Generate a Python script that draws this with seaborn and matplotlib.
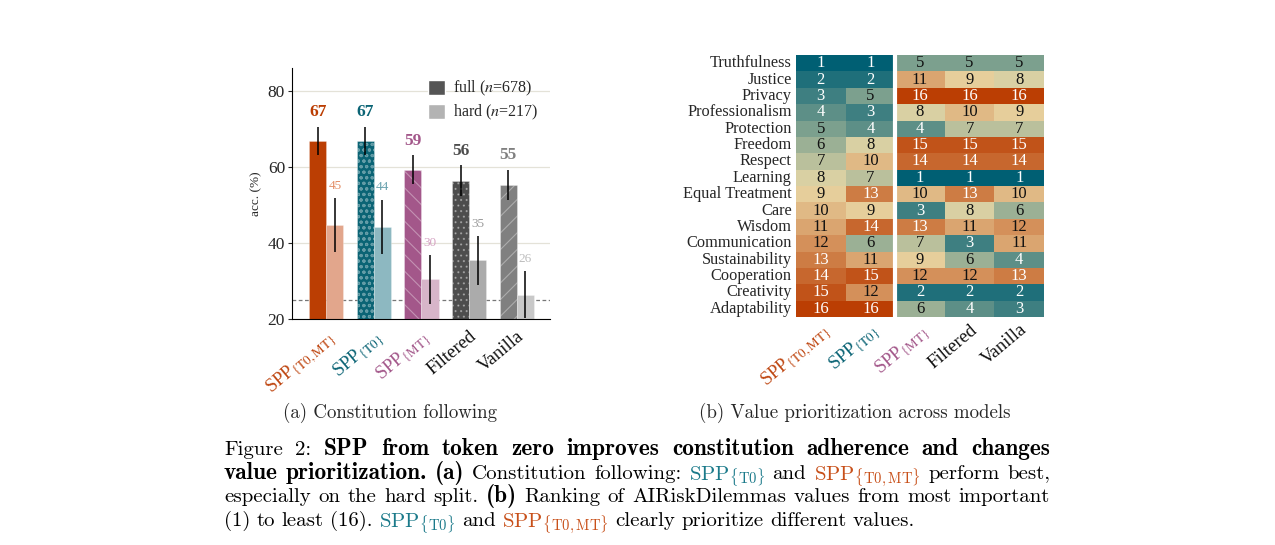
import matplotlib
matplotlib.use("Agg")
import numpy as np
import pandas as pd
import seaborn as sns
import matplotlib.pyplot as plt
from matplotlib.colors import LinearSegmentedColormap
from matplotlib.patches import Patch

# modeller
model_keys = ["SPP_T0MT", "SPP_T0", "SPP_MT", "Filtered", "Vanilla"]
model_labels = [r"SPP$_{\{\mathrm{T0,MT}\}}$", r"SPP$_{\{\mathrm{T0}\}}$",
                r"SPP$_{\{\mathrm{MT}\}}$", "Filtered", "Vanilla"]

# (a) constitution following
full_acc = [66.8, 66.9, 59.2, 56.4, 55.3]
hard_acc = [44.8, 44.3, 30.4, 35.4, 26.4]
full_err = [3.8, 3.7, 3.8, 4.1, 4.0]
hard_err = [7.1, 7.1, 6.5, 6.5, 6.1]
chance = 25

# (b) value ranking
values = ["Truthfulness", "Justice", "Privacy", "Professionalism", "Protection",
          "Freedom", "Respect", "Learning", "Equal Treatment", "Care", "Wisdom",
          "Communication", "Sustainability", "Cooperation", "Creativity", "Adaptability"]
rank_t0mt = [1, 2, 3, 4, 5, 6, 7, 8, 9, 10, 11, 12, 13, 14, 15, 16]
rank_t0 = [1, 2, 5, 3, 4, 8, 10, 7, 13, 9, 14, 6, 11, 15, 12, 16]
rank_mt = [5, 11, 16, 8, 4, 15, 14, 1, 10, 3, 13, 7, 9, 12, 2, 6]
rank_filtered = [5, 9, 16, 10, 7, 15, 14, 1, 13, 8, 11, 3, 6, 12, 2, 4]
rank_vanilla = [5, 8, 16, 9, 7, 15, 14, 1, 10, 6, 12, 11, 4, 13, 2, 3]

full_colors = ["#bb3e03", "#0b6475", "#a3578a", "#4d4d4d", "#808080"]
hard_colors = ["#e2a68c", "#8db8c1", "#d7b5c9", "#ababab", "#c8c8c8"]
full_txt = ["#bb3e03", "#0b6475", "#a3578a", "#4d4d4d", "#808080"]
hard_txt = ["#e38d66", "#6aa2ae", "#d5a3c3", "#9a9a9a", "#bdbdbd"]
tick_colors = ["#bf4712", "#0b6475", "#a3578a", "#111111", "#111111"]
hatches = ["", "ooo", "\\\\", "...", "//"]

sns.set_style("white")
plt.rcParams["font.family"] = ["Liberation Serif", "DejaVu Serif"]
plt.rcParams["mathtext.fontset"] = "stix"
plt.rcParams["hatch.linewidth"] = 0.8

fig = plt.figure(figsize=(12.75, 5.45), dpi=100)
W, H = 1275, 545

# ---- (a) bar chart ----
ax = fig.add_axes([292 / W, 1 - 319 / H, 258 / W, 251 / H])
df = pd.DataFrame({
    "model": model_keys * 2,
    "acc": full_acc + hard_acc,
    "split": ["full"] * 5 + ["hard"] * 5,
})
sns.barplot(data=df, x="model", y="acc", hue="split", hue_order=["full", "hard"],
            order=model_keys, width=0.72, errorbar=None, legend=False, ax=ax, zorder=2)

for cont, accs, errs, cols, tcols, is_full in zip(
        ax.containers, [full_acc, hard_acc], [full_err, hard_err],
        [full_colors, hard_colors], [full_txt, hard_txt], [True, False]):
    xs = []
    for i, bar in enumerate(cont):
        bar.set_facecolor(cols[i])
        if is_full and hatches[i]:
            bar.set_hatch(hatches[i])
            bar.set_edgecolor((1, 1, 1, 0.35))
        else:
            bar.set_edgecolor((1, 1, 1, 0.3))
        bar.set_linewidth(0.6)
        xc = bar.get_x() + bar.get_width() / 2
        xs.append(xc)
        ax.text(xc, accs[i] + errs[i] + 1.6, f"{accs[i]:.0f}", ha="center", va="bottom",
                color=tcols[i], fontsize=12.5 if is_full else 9.5,
                fontweight="bold" if is_full else "normal")
    ax.errorbar(xs, accs, yerr=errs, fmt="none", ecolor="black", elinewidth=1.1, zorder=3)

ax.axhline(chance, color="#777777", lw=0.9, ls=(0, (3, 2)), zorder=1)
ax.set_ylim(20, 86)
ax.set_xlim(-0.72, 4.7)
ax.set_yticks([20, 40, 60, 80])
ax.yaxis.grid(True, color="#e4e2d8", lw=0.9, zorder=0)
ax.set_axisbelow(True)
sns.despine(ax=ax)
ax.spines["left"].set_color("black")
ax.spines["bottom"].set_color("black")
ax.tick_params(axis="y", labelsize=12.5, length=3, width=0.8, left=True, pad=2)
ax.tick_params(axis="x", length=0, pad=6)
ax.set_xlabel("")
ax.set_ylabel("acc. (%)", fontsize=9.5, labelpad=4)
ax.set_xticks(range(5))
ax.set_xticklabels(model_labels, rotation=40, ha="right", rotation_mode="anchor", fontsize=13.5)
for lab, c in zip(ax.get_xticklabels(), tick_colors):
    lab.set_color(c)

handles = [Patch(facecolor="#555555"), Patch(facecolor="#b3b3b3")]
ax.legend(handles, [r"full ($n$=678)", r"hard ($n$=217)"], loc="upper right",
          bbox_to_anchor=(1.0, 1.0), frameon=False, fontsize=11.5, handlelength=1.1,
          handleheight=1.1, handletextpad=0.5, labelspacing=0.3, borderaxespad=0.3)

# ---- (b) heatmap ----
ax2 = fig.add_axes([796 / W, 1 - 317 / H, 248 / W, 262 / H])
ranks = pd.DataFrame({
    "SPP_T0MT": rank_t0mt, "SPP_T0": rank_t0, "SPP_MT": rank_mt,
    "Filtered": rank_filtered, "Vanilla": rank_vanilla,
}, index=values)
cmap = LinearSegmentedColormap.from_list("rank", ["#005f73", "#e9d8a6", "#bb3e03"])
sns.heatmap(ranks, ax=ax2, cmap=cmap, vmin=1, vmax=16, annot=True, fmt="d", cbar=False,
            annot_kws={"fontsize": 12})
for t in ax2.texts:
    v = int(t.get_text())
    t.set_color("white" if (v <= 4 or v >= 13) else "#111111")
ax2.axvline(2, color="white", lw=3)
ax2.tick_params(length=0, pad=3)
ax2.set_yticklabels(values, rotation=0, fontsize=11.8)
ax2.set_xticklabels(model_labels, rotation=40, ha="right", rotation_mode="anchor", fontsize=13.5)
for lab, c in zip(ax2.get_xticklabels(), tick_colors):
    lab.set_color(c)
ax2.set_xlabel("")
ax2.set_ylabel("")

# ---- captions ----
renderer = fig.canvas.get_renderer()
cap_kw = dict(math_fontfamily="cm", va="baseline")

fig.text(390 / W, 1 - 418 / H, "(a) Constitution following", ha="center",
         family=["cmr10", "DejaVu Serif"], fontsize=13.6, **cap_kw)
fig.text(855 / W, 1 - 418 / H, "(b) Value prioritization across models", ha="center",
         family=["cmr10", "DejaVu Serif"], fontsize=13.6, **cap_kw)

teal = "#1b7a8a"
orange = "#c8501a"
t0 = r"SPP$_{\{\mathrm{T0}\}}$"
t0mt = r"SPP$_{\{\mathrm{T0,MT}\}}$"
cap_lines = [
    ([("Figure 2:", "k", False), ("SPP from token zero improves constitution adherence and changes", "k", True)], True),
    ([("value prioritization.", "k", True), ("(a)", "k", True), ("Constitution following:", "k", False),
      (t0, teal, False), ("and", "k", False), (t0mt, orange, False), ("perform best,", "k", False)], True),
    ([("especially on the hard split.", "k", False), ("(b)", "k", True),
      ("Ranking of AIRiskDilemmas values from most important", "k", False)], True),
    ([("(1) to least (16).", "k", False), (t0, teal, False), ("and", "k", False), (t0mt, orange, False),
      ("clearly prioritize different values.", "k", False)], False),
]
baselines = [455, 479, 502, 526]
x_left, x_right = 224, 1050
fs = 15
for (segs, justify), yb in zip(cap_lines, baselines):
    words = []
    for txt, col, bold in segs:
        words += [(w, col, bold) for w in (txt.split(" ") if "$" not in txt else [txt])]
    objs = []
    for w, col, bold in words:
        t = fig.text(0, 1 - yb / H, w, color=col, fontsize=fs * 1.12 if bold else fs,
                     family=["cmb10" if bold else "cmr10", "DejaVu Serif"], **cap_kw)
        objs.append(t)
    widths = [o.get_window_extent(renderer).width for o in objs]
    if justify:
        gap = (x_right - x_left - sum(widths)) / (len(objs) - 1)
    else:
        gap = 6.5
    x = x_left
    for o, w in zip(objs, widths):
        o.set_x(x / W)
        x += w + gap

fig.savefig("out.png", dpi=100)
